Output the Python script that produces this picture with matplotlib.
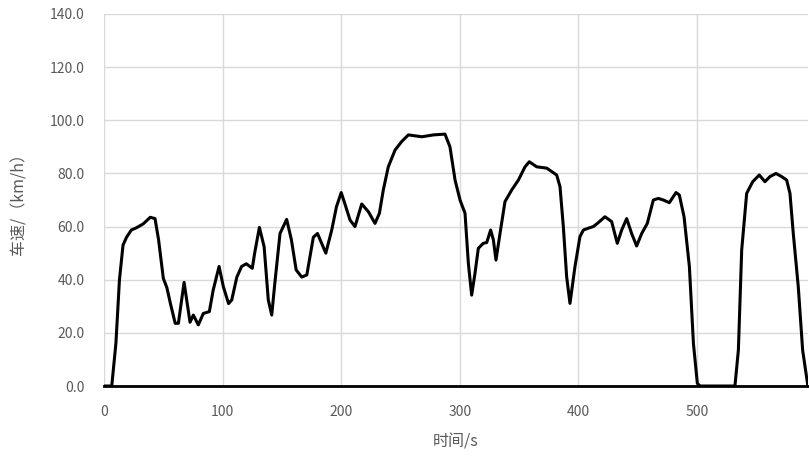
import matplotlib
matplotlib.use("Agg")
from matplotlib import pyplot as plt

plt.rcParams['font.family'] = ['Noto Sans CJK SC', 'DejaVu Sans']

# time (s) and speed (km/h)
time_s = [0, 6.5, 10, 13, 16, 19, 23, 27.5, 33, 39, 43, 46, 50, 53, 56, 60, 62.7,
          67.5, 72.5, 75.3, 79.5, 83.7, 88.8, 92, 97, 100.6, 105, 107.7, 112, 116,
          120, 125, 127, 131, 135, 138.5, 141.4, 144, 148.4, 154, 158, 162, 166.7,
          171, 176.5, 180, 183.5, 187, 192, 196, 200, 203, 207.4, 211.6, 217.3,
          222.9, 228.5, 232.2, 235.5, 239.7, 245.4, 251, 256.6, 268, 277.7, 287.5,
          291.7, 296, 300.2, 304.4, 307.2, 310, 312.8, 315.6, 319.8, 322.7, 326,
          328.3, 330.5, 333.9, 338.1, 343.8, 349.4, 355, 358.6, 364.8, 373.3,
          381.7, 384.5, 387.3, 390.1, 392.9, 397.1, 401.3, 404.2, 408.4, 412.6,
          416.8, 422.4, 428, 432.8, 436.5, 440.7, 444.9, 449.1, 453.4, 458.1,
          463.2, 467.4, 471.6, 476.7, 482.3, 485.1, 489.1, 493.6, 497, 500.3,
          502.5, 532, 534.9, 537.7, 541.9, 547, 552.5, 557.3, 561.5, 566.6, 571.4,
          575.6, 578.4, 581.2, 585.4, 589.1, 593.5]
speed_kmh = [0, 0, 16, 40, 53, 56, 58.7, 59.6, 61, 63.5, 63, 55, 40.5, 37, 31, 23.6,
             23.6, 39, 24, 26.7, 23, 27.3, 28, 36, 45, 37.4, 31, 32.4, 41, 45, 46,
             44.3, 50, 59.7, 52.4, 32.4, 26.7, 38.6, 57.4, 62.7, 55, 43.7, 41, 41.8,
             56, 57.4, 53.7, 50, 58.7, 67.5, 72.8, 68.7, 62.5, 60, 68.5, 65.6, 61.2,
             65, 73.8, 82.5, 88.8, 92, 94.5, 93.8, 94.5, 94.8, 90, 77.5, 70, 65,
             46.2, 34.2, 42.4, 51.8, 53.7, 54, 58.7, 55, 47.4, 57.4, 69.4, 73.8,
             77.5, 82.5, 84.4, 82.5, 82, 79.4, 75, 60, 41.1, 31.1, 44.9, 56.2, 58.7,
             59.4, 60, 61.5, 63.7, 61.9, 53.7, 58.7, 63, 57.4, 52.7, 57.4, 61.2, 70,
             70.6, 70, 69, 72.8, 71.9, 63.7, 44.9, 16, 1, 0, 0, 13.5, 51.2, 72.5,
             76.9, 79.4, 76.9, 78.8, 80, 78.8, 77.5, 72.5, 57.4, 37.4, 13.5, 0]

x_ticks = [0, 100, 200, 300, 400, 500]
y_ticks = [0, 20, 40, 60, 80, 100, 120, 140]

fig = plt.figure(figsize=(8.09, 4.59), dpi=100)
ax = fig.add_axes([0.1286, 0.159, 0.87, 0.8105])

ax.plot(time_s, speed_kmh, color='black', linewidth=2.2, solid_joinstyle='round', zorder=3)

ax.set_xlim(0, 593.5)
ax.set_ylim(0, 140)
ax.set_xticks(x_ticks)
ax.set_yticks(y_ticks)
ax.set_yticklabels([f'{v:.1f}' for v in y_ticks])
ax.grid(True, color='#d9d9d9', linewidth=1.0)
ax.set_axisbelow(True)

for side in ['top', 'right', 'left']:
    ax.spines[side].set_visible(False)
ax.spines['bottom'].set_color('black')
ax.spines['bottom'].set_linewidth(2.0)
ax.spines['bottom'].set_zorder(4)

ax.tick_params(length=0, labelsize=10, labelcolor='#595959', pad=14)
ax.set_xlabel('时间/s', fontsize=11.5, color='#595959', labelpad=10)
ax.set_ylabel('车速/（km/h）', fontsize=11.5, color='#595959', labelpad=16)

fig.savefig('out.png', dpi=100)
